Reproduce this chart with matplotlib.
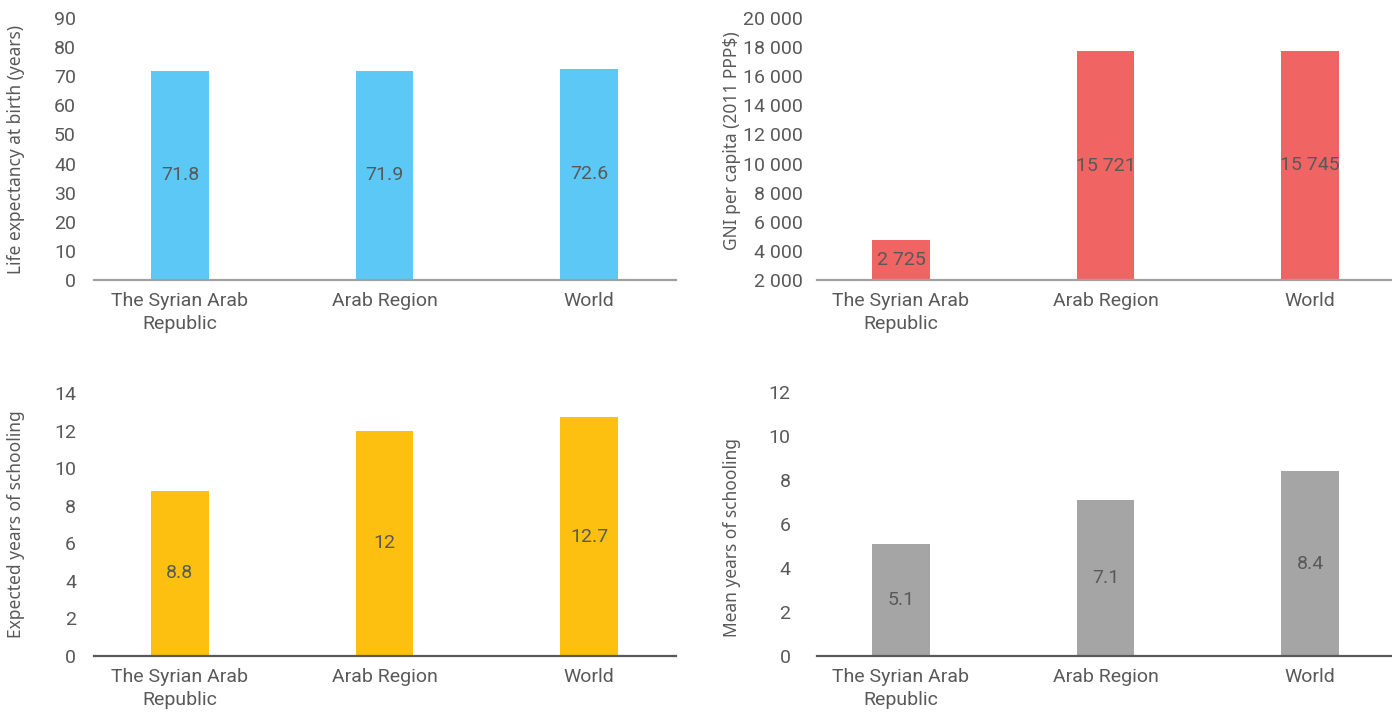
import numpy as np
import matplotlib.pyplot as plt
from matplotlib.ticker import FuncFormatter

# data
categories = ["The Syrian Arab\nRepublic", "Arab Region", "World"]
life_exp = [71.8, 71.9, 72.6]
gni = [2725, 15721, 15745]
exp_school = [8.8, 12, 12.7]
mean_school = [5.1, 7.1, 8.4]

life_labels = ["71.8", "71.9", "72.6"]
gni_labels = ["2 725", "15 721", "15 745"]
exp_labels = ["8.8", "12", "12.7"]
mean_labels = ["5.1", "7.1", "8.4"]

narrow = ['Liberation Sans Narrow', 'Roboto', 'DejaVu Sans']
regular = ['Noto Sans', 'DejaVu Sans']
txt = '#595959'

fig = plt.figure(figsize=(13.92, 7.19), dpi=100)

W, H = 1392.0, 719.0
def axes_px(x0, x1, y0, y1):
    return fig.add_axes([x0 / W, 1 - y1 / H, (x1 - x0) / W, (y1 - y0) / H])

x = np.arange(len(categories))

panels = [
    # px box, values, labels, color, ylim, yticks, ylabel, spine color, pad, xlim
    ((94, 676, 18, 280), life_exp, life_labels, '#5BC8F5', (0, 90), np.arange(0, 91, 10),
     "Life expectancy at birth (years)", '#A0A0A0', 13, (-0.42, 2.425)),
    ((817, 1392, 18, 280), gni, gni_labels, '#F06464', (2000, 20000), np.arange(2000, 20001, 2000),
     "GNI per capita (2011 PPP$)", '#A0A0A0', 10, (-0.41, 2.40)),
    ((94, 676, 393, 656), exp_school, exp_labels, '#FDC010', (0, 14), np.arange(0, 15, 2),
     "Expected years of schooling", '#595959', 13, (-0.42, 2.425)),
    ((817, 1392, 392, 656), mean_school, mean_labels, '#A5A5A5', (0, 12), np.arange(0, 13, 2),
     "Mean years of schooling", '#595959', 19, (-0.41, 2.40)),
]

for box, vals, labs, col, ylim, yt, ylabel, spc, pad, xlim in panels:
    ax = axes_px(*box)
    base = ylim[0]
    ax.bar(x, vals, width=0.283, bottom=base, color=col, zorder=2)
    for xi, v, lab in zip(x, vals, labs):
        ax.text(xi, base + v / 2, lab, ha='center', va='center', fontsize=14,
                family=narrow, color=txt, zorder=3)
    ax.set_ylim(*ylim)
    ax.set_xlim(*xlim)
    ax.set_yticks(yt)
    ax.yaxis.set_major_formatter(FuncFormatter(lambda v, p: f"{int(v):,}".replace(",", " ")))
    ax.set_xticks(x)
    ax.set_xticklabels(categories, linespacing=1.35)
    for s in ['top', 'right', 'left']:
        ax.spines[s].set_visible(False)
    ax.spines['bottom'].set_color(spc)
    ax.spines['bottom'].set_linewidth(1.6)
    ax.spines['bottom'].set_zorder(4)
    ax.tick_params(axis='both', length=0, labelsize=14, labelcolor=txt)
    ax.tick_params(axis='y', pad=pad)
    ax.tick_params(axis='x', pad=9)
    for t in ax.get_xticklabels() + ax.get_yticklabels():
        t.set_family(narrow)
    ax.set_ylabel(ylabel, fontsize=12.5, family=regular, color=txt)

fig.axes[0].yaxis.set_label_coords(-0.118, 0.5)
fig.axes[1].yaxis.set_label_coords(-0.132, 0.53)
fig.axes[2].yaxis.set_label_coords(-0.118, 0.5)
fig.axes[3].yaxis.set_label_coords(-0.132, 0.45)

fig.savefig("out.png", dpi=100)
